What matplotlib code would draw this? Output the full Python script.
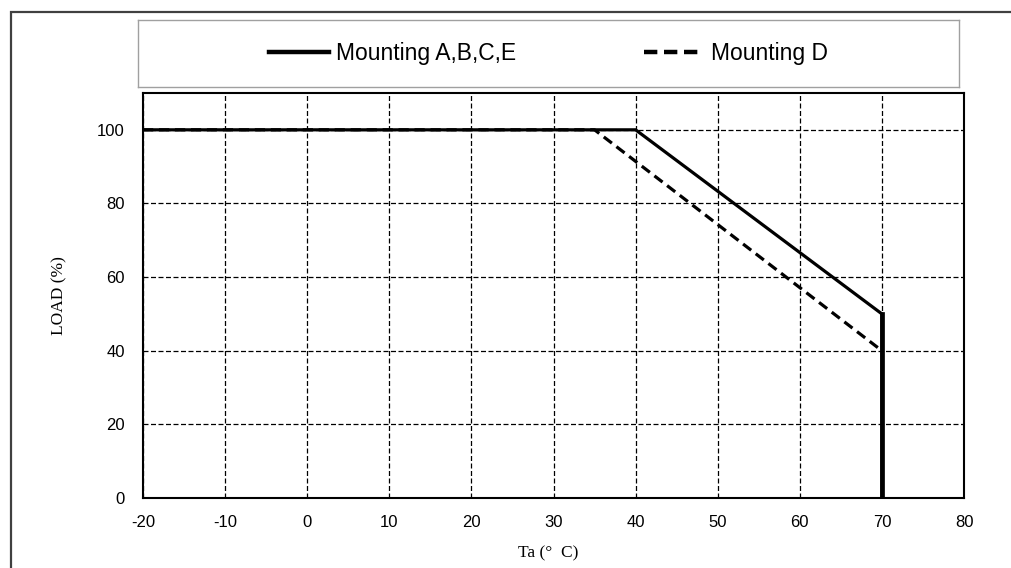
import matplotlib
matplotlib.use("Agg")
import matplotlib.pyplot as plt
from matplotlib.patches import Rectangle

plt.rcParams["axes.unicode_minus"] = False

# derating curves: ambient temperature (C) vs load (%)
temp_abce = [-20, 40, 70, 70]
load_abce = [100, 100, 50, 0]
temp_d = [-20, 35, 70]
load_d = [100, 100, 40]

x_ticks = list(range(-20, 81, 10))
y_ticks = list(range(0, 101, 20))

fig = plt.figure(figsize=(10.11, 5.68), dpi=100)

# outer frame around the whole chart (runs off the right/bottom edges)
fig.patches.append(Rectangle((11 / 1011, -0.05), 1.2, 1 - 12 / 568 + 0.05,
                             transform=fig.transFigure, fill=False,
                             edgecolor="#404040", linewidth=1.6))

ax = fig.add_axes([143 / 1011, 1 - 498 / 568, 821 / 1011, 405 / 568])
ax.plot(temp_abce, load_abce, color="black", linewidth=2.3, solid_joinstyle="miter")
ax.plot(temp_abce[-2:], load_abce[-2:], color="black", linewidth=3.4)
ax.plot(temp_d, load_d, color="black", linewidth=2.3, linestyle=(0, (3.2, 1.8)))

ax.set_xlim(-20, 80)
ax.set_ylim(0, 110)
ax.set_xticks(x_ticks)
ax.set_yticks(y_ticks)
ax.grid(True, color="black", linestyle=(0, (4, 2)), linewidth=0.9)
ax.tick_params(length=0, labelsize=12)
ax.tick_params(axis="y", pad=13)
ax.tick_params(axis="x", pad=12)
for lab in ax.get_xticklabels() + ax.get_yticklabels():
    lab.set_fontfamily("Liberation Sans")
for s in ax.spines.values():
    s.set_linewidth(1.5)

ax.set_ylabel("LOAD (%)", fontfamily="Liberation Serif", fontsize=12.5, va="center")
ax.yaxis.set_label_coords(-0.102, 0.5)
ax.set_xlabel("Ta (°  C)", fontfamily="Liberation Serif", fontsize=12.5, va="center")
ax.xaxis.set_label_coords(0.493, -0.136)

# legend in its own box above the plot
lax = fig.add_axes([138 / 1011, 1 - 87 / 568, 821 / 1011, 67 / 568])
lax.set_xticks([])
lax.set_yticks([])
for s in lax.spines.values():
    s.set_edgecolor("#a0a0a0")
    s.set_linewidth(1.0)
h1, = lax.plot([], [], color="black", linewidth=3.2)
h2, = lax.plot([], [], color="black", linewidth=3.2, linestyle=(0, (3, 1.5)))
lax.legend([h1, h2], ["Mounting A,B,C,E", "Mounting D"], loc="center", ncol=2,
           frameon=False, handlelength=2.6, handletextpad=0.3, columnspacing=5.6,
           prop={"family": "Liberation Sans", "size": 16.5})

fig.savefig("out.png", dpi=100)
